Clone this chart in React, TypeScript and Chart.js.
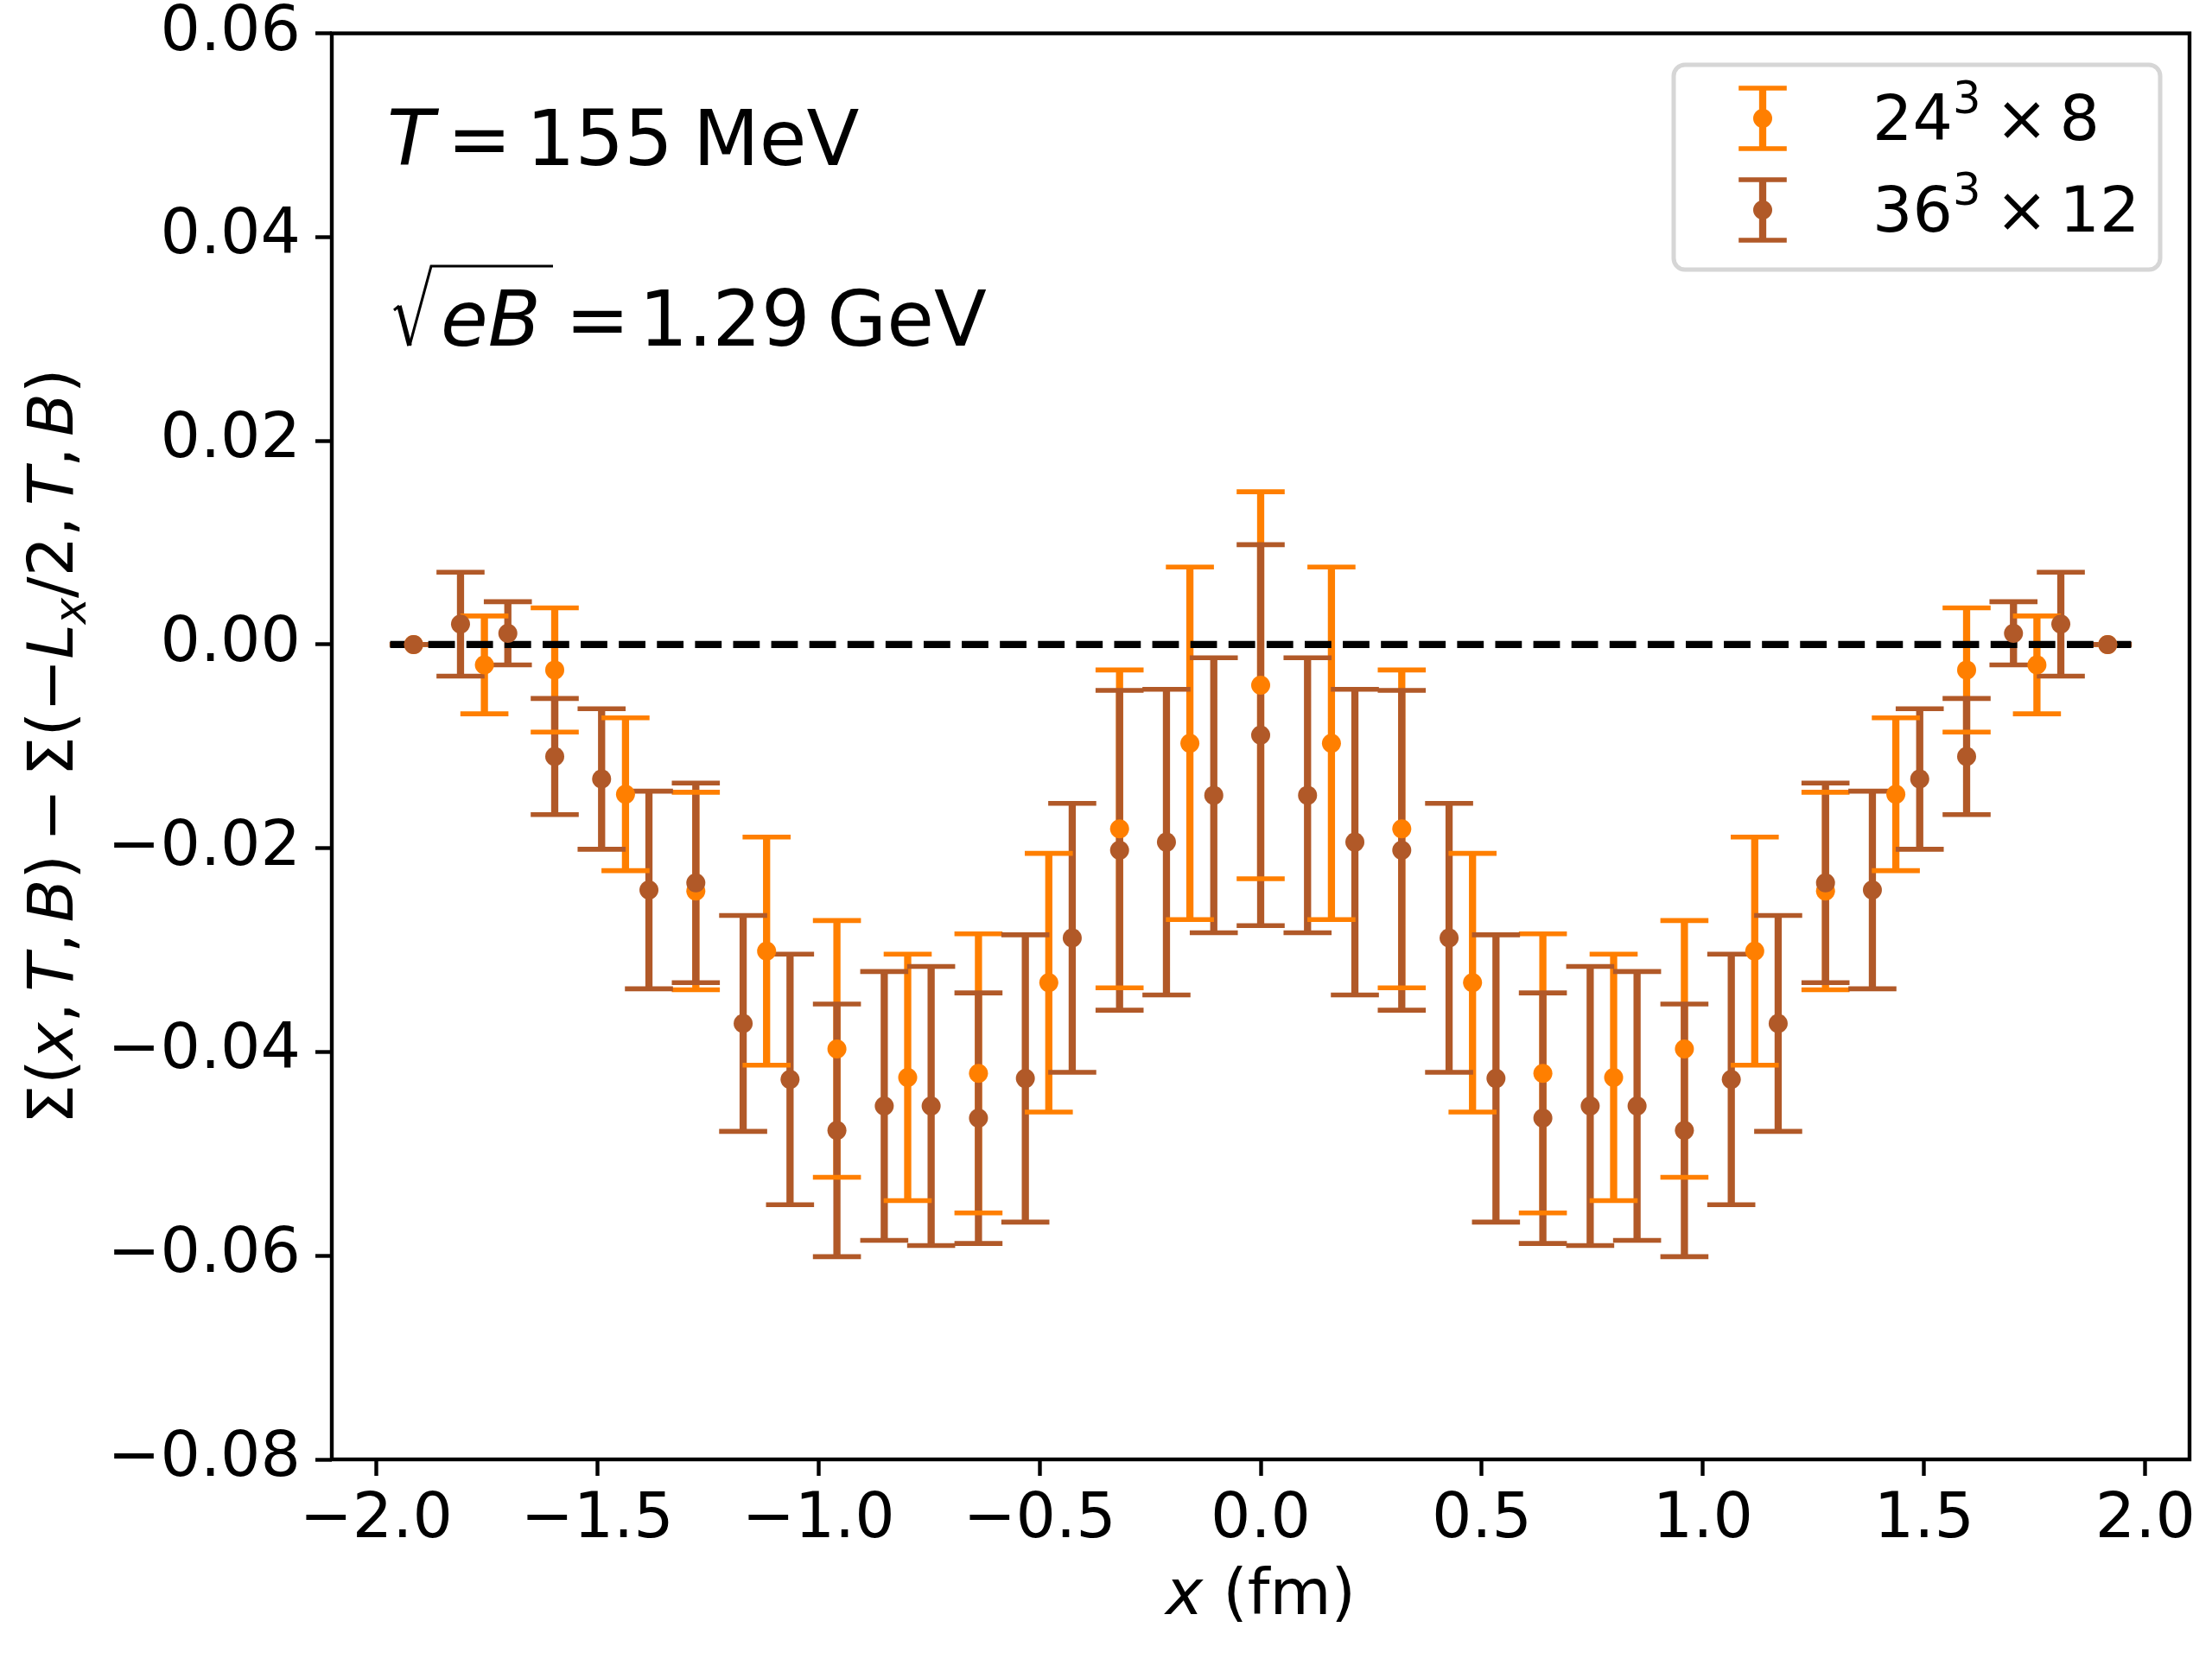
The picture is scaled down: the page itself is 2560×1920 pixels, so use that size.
import { useEffect, useRef } from "react"
import { Chart, registerables } from "chart.js"
import type { Plugin } from "chart.js"

Chart.register(...registerables)

// 24^3 x 8 lattice (orange)
const xCoarse = [
  -1.915, -1.755, -1.596, -1.436, -1.277, -1.117, -0.958, -0.798, -0.638, -0.479, -0.319, -0.16, 0,
  0.16, 0.319, 0.479, 0.638, 0.798, 0.958, 1.117, 1.277, 1.436, 1.596, 1.755, 1.915,
]
const yCoarse = [
  0, -0.002, -0.0025, -0.0147, -0.0242, -0.0301, -0.0397, -0.0425, -0.0421, -0.0332, -0.0181, -0.0097, -0.004,
  -0.0097, -0.0181, -0.0332, -0.0421, -0.0425, -0.0397, -0.0301, -0.0242, -0.0147, -0.0025, -0.002, 0,
]
const errCoarse = [
  0, 0.0048, 0.0061, 0.0075, 0.0097, 0.0112, 0.0126, 0.0121, 0.0137, 0.0127, 0.0156, 0.0173, 0.019,
  0.0173, 0.0156, 0.0127, 0.0137, 0.0121, 0.0126, 0.0112, 0.0097, 0.0075, 0.0061, 0.0048, 0,
]

// 36^3 x 12 lattice (brown)
const xFine = [
  -1.915, -1.809, -1.702, -1.596, -1.49, -1.383, -1.277, -1.17, -1.064, -0.958, -0.851, -0.745, -0.638,
  -0.532, -0.426, -0.319, -0.213, -0.106, 0, 0.106, 0.213, 0.319, 0.426, 0.532, 0.638, 0.745, 0.851,
  0.958, 1.064, 1.17, 1.277, 1.383, 1.49, 1.596, 1.702, 1.809, 1.915,
]
const yFine = [
  0, 0.002, 0.0011, -0.011, -0.0132, -0.0241, -0.0234, -0.0372, -0.0427, -0.0477, -0.0453, -0.0453, -0.0465,
  -0.0426, -0.0288, -0.0202, -0.0194, -0.0148, -0.0089, -0.0148, -0.0194, -0.0202, -0.0288, -0.0426, -0.0465,
  -0.0453, -0.0453, -0.0477, -0.0427, -0.0372, -0.0234, -0.0241, -0.0132, -0.011, 0.0011, 0.002, 0,
]
const errFine = [
  0, 0.0051, 0.0031, 0.0057, 0.0069, 0.0097, 0.0098, 0.0106, 0.0123, 0.0124, 0.0132, 0.0137, 0.0123,
  0.0141, 0.0132, 0.0157, 0.015, 0.0135, 0.0187, 0.0135, 0.015, 0.0157, 0.0132, 0.0141, 0.0123, 0.0137,
  0.0132, 0.0124, 0.0123, 0.0106, 0.0098, 0.0097, 0.0069, 0.0057, 0.0031, 0.0051, 0,
]

// zero reference line
const zeroLineX = [-1.968, 1.968]
const zeroLineY = [0, 0]

const xTicks = [-2, -1.5, -1, -0.5, 0, 0.5, 1, 1.5, 2]
const yTicks = [-0.08, -0.06, -0.04, -0.02, 0, 0.02, 0.04, 0.06]

const ORANGE = "#ff7f00"
const BROWN = "#b15928"
const FONT = "'DejaVu Sans'"
const TICK_SIZE = 73
const ANNOT_SIZE = 89

type Seg = { t: string; it?: boolean; gap?: number; sup?: boolean; sub?: boolean }

function segFont(seg: Seg, size: number) {
  const s = seg.sup || seg.sub ? size * 0.7 : size
  return `${seg.it ? "italic " : ""}${s}px ${FONT}`
}

function richWidth(ctx: CanvasRenderingContext2D, segs: Seg[], size: number) {
  let w = 0
  for (const seg of segs) {
    w += (seg.gap || 0) * size
    ctx.font = segFont(seg, size)
    w += ctx.measureText(seg.t).width
  }
  return w
}

function drawRich(ctx: CanvasRenderingContext2D, segs: Seg[], x: number, y: number, size: number) {
  let cx = x
  ctx.textBaseline = "alphabetic"
  ctx.textAlign = "left"
  for (const seg of segs) {
    cx += (seg.gap || 0) * size
    ctx.font = segFont(seg, size)
    let dy = 0
    if (seg.sup) dy = -0.42 * size
    if (seg.sub) dy = 0.2 * size
    ctx.fillText(seg.t, cx, y + dy)
    cx += ctx.measureText(seg.t).width
  }
}

const minus = (v: string) => v.replace("-", "\u2212")

const errorBars: Plugin<"scatter"> = {
  id: "errorBars",
  beforeDatasetsDraw(chart) {
    const { ctx } = chart
    const x = chart.scales.x
    const y = chart.scales.y
    const series = [
      { xs: xCoarse, ys: yCoarse, es: errCoarse, color: ORANGE },
      { xs: xFine, ys: yFine, es: errFine, color: BROWN },
    ]
    ctx.save()
    ctx.lineWidth = 8.3
    for (const s of series) {
      ctx.strokeStyle = s.color
      ctx.beginPath()
      s.xs.forEach((xv, i) => {
        const px = x.getPixelForValue(xv)
        ctx.moveTo(px, y.getPixelForValue(s.ys[i] + s.es[i]))
        ctx.lineTo(px, y.getPixelForValue(s.ys[i] - s.es[i]))
      })
      ctx.stroke()
    }
    ctx.lineWidth = 5.6
    for (const s of series) {
      ctx.strokeStyle = s.color
      ctx.beginPath()
      s.xs.forEach((xv, i) => {
        const px = x.getPixelForValue(xv)
        for (const v of [s.ys[i] + s.es[i], s.ys[i] - s.es[i]]) {
          const py = y.getPixelForValue(v)
          ctx.moveTo(px - 27.8, py)
          ctx.lineTo(px + 27.8, py)
        }
      })
      ctx.stroke()
    }
    ctx.restore()
  },
}

const decorations: Plugin<"scatter"> = {
  id: "decorations",
  afterDraw(chart) {
    const { ctx, chartArea } = chart
    const { left, right, top, bottom } = chartArea
    ctx.save()

    // spines
    ctx.strokeStyle = "#000"
    ctx.lineWidth = 4.4
    ctx.strokeRect(left, top, right - left, bottom - top)

    ctx.fillStyle = "#000"

    // annotations
    drawRich(
      ctx,
      [{ t: "T", it: true }, { t: "=", gap: 0.17 }, { t: "155", gap: 0.19 }, { t: "MeV", gap: 0.26 }],
      448,
      191,
      ANNOT_SIZE
    )
    // radical sign
    ctx.strokeStyle = "#000"
    ctx.lineCap = "butt"
    ctx.lineWidth = 3
    ctx.beginPath()
    ctx.moveTo(456, 359)
    ctx.lineTo(462, 354)
    ctx.stroke()
    ctx.lineWidth = 5.5
    ctx.beginPath()
    ctx.moveTo(462, 354)
    ctx.lineTo(474, 400)
    ctx.stroke()
    ctx.lineWidth = 3
    ctx.beginPath()
    ctx.moveTo(474, 400)
    ctx.lineTo(499, 308)
    ctx.lineTo(640, 308)
    ctx.stroke()
    drawRich(
      ctx,
      [{ t: "eB", it: true }, { t: "=", gap: 0.32 }, { t: "1.29", gap: 0.12 }, { t: "GeV", gap: 0.22 }],
      510,
      400,
      ANNOT_SIZE
    )

    // y-axis label
    const ySegs: Seg[] = [
      { t: "\u03a3(" },
      { t: "x", it: true },
      { t: "," },
      { t: "T", it: true, gap: 0.17 },
      { t: "," },
      { t: "B", it: true, gap: 0.17 },
      { t: ")" },
      { t: "\u2212", gap: 0.2 },
      { t: "\u03a3(\u2212", gap: 0.2 },
      { t: "L", it: true },
      { t: "x", it: true, sub: true },
      { t: "/2," },
      { t: "T", it: true, gap: 0.17 },
      { t: "," },
      { t: "B", it: true, gap: 0.17 },
      { t: ")" },
    ]
    const yw = richWidth(ctx, ySegs, TICK_SIZE)
    ctx.save()
    ctx.translate(84, (top + bottom) / 2)
    ctx.rotate(-Math.PI / 2)
    drawRich(ctx, ySegs, -yw / 2, 0, TICK_SIZE)
    ctx.restore()

    // x-axis label
    const xSegs: Seg[] = [{ t: "x", it: true }, { t: " (fm)" }]
    const xw = richWidth(ctx, xSegs, TICK_SIZE)
    drawRich(ctx, xSegs, (left + right) / 2 - xw / 2, 1868, TICK_SIZE)

    // legend
    ctx.fillStyle = "rgba(255,255,255,0.8)"
    ctx.strokeStyle = "#d6d6d6"
    ctx.lineWidth = 5
    ctx.beginPath()
    ctx.roundRect(1937, 75, 563, 237, 13)
    ctx.fill()
    ctx.stroke()

    const entries = [
      { color: ORANGE, cy: 137, segs: [{ t: "24" }, { t: "3", sup: true }, { t: "\u00d7", gap: 0.23 }, { t: "8", gap: 0.18 }] },
      { color: BROWN, cy: 243, segs: [{ t: "36" }, { t: "3", sup: true }, { t: "\u00d7", gap: 0.23 }, { t: "12", gap: 0.18 }] },
    ]
    for (const e of entries) {
      const hx = 2040
      ctx.strokeStyle = e.color
      ctx.lineWidth = 8.3
      ctx.beginPath()
      ctx.moveTo(hx, e.cy - 35)
      ctx.lineTo(hx, e.cy + 35)
      ctx.stroke()
      ctx.lineWidth = 5.6
      ctx.beginPath()
      ctx.moveTo(hx - 27.8, e.cy - 35)
      ctx.lineTo(hx + 27.8, e.cy - 35)
      ctx.moveTo(hx - 27.8, e.cy + 35)
      ctx.lineTo(hx + 27.8, e.cy + 35)
      ctx.stroke()
      ctx.fillStyle = e.color
      ctx.beginPath()
      ctx.arc(hx, e.cy, 11, 0, Math.PI * 2)
      ctx.fill()
      ctx.fillStyle = "#000"
      drawRich(ctx, e.segs, 2167, e.cy + 25, TICK_SIZE)
    }

    ctx.restore()
  },
}

export default function App() {
  const chartRef = useRef<HTMLCanvasElement>(null)
  const chartInstance = useRef<Chart | null>(null)

  useEffect(() => {
    if (!chartRef.current) return
    if (chartInstance.current) chartInstance.current.destroy()
    const ctx = chartRef.current.getContext("2d")
    if (!ctx) return

    chartInstance.current = new Chart(ctx, {
      type: "scatter",
      data: {
        datasets: [
          {
            label: "zero",
            data: zeroLineX.map((x, i) => ({ x, y: zeroLineY[i] })),
            showLine: true,
            borderColor: "#000",
            borderWidth: 8.3,
            borderDash: [30.8, 13.3],
            pointRadius: 0,
            order: 3,
          },
          {
            label: "24^3 x 8",
            data: xCoarse.map((x, i) => ({ x, y: yCoarse[i] })),
            pointRadius: 11,
            pointBorderWidth: 0,
            pointBackgroundColor: ORANGE,
            backgroundColor: ORANGE,
            order: 2,
          },
          {
            label: "36^3 x 12",
            data: xFine.map((x, i) => ({ x, y: yFine[i] })),
            pointRadius: 11,
            pointBorderWidth: 0,
            pointBackgroundColor: BROWN,
            backgroundColor: BROWN,
            order: 1,
          },
        ],
      },
      options: {
        animation: false,
        responsive: true,
        maintainAspectRatio: false,
        devicePixelRatio: 1,
        events: [],
        layout: { padding: { top: 38.6, right: 26, left: 0, bottom: 0 } },
        plugins: {
          legend: { display: false },
          tooltip: { enabled: false },
        },
        scales: {
          x: {
            type: "linear",
            min: -2.1,
            max: 2.1,
            afterFit: (scale) => {
              scale.height = 231
              scale.paddingLeft = 0
              scale.paddingRight = 0
            },
            afterBuildTicks: (scale) => {
              scale.ticks = xTicks.map((value) => ({ value }))
            },
            border: { display: false },
            grid: {
              display: true,
              drawOnChartArea: false,
              drawTicks: true,
              tickLength: 19,
              tickWidth: 4.4,
              tickColor: "#000",
            },
            ticks: {
              autoSkip: false,
              maxRotation: 0,
              padding: 8,
              color: "#000",
              font: { family: FONT, size: TICK_SIZE },
              callback: (value) => minus(Number(value).toFixed(1)),
            },
          },
          y: {
            type: "linear",
            min: -0.08,
            max: 0.06,
            afterFit: (scale) => {
              scale.width = 384
              scale.paddingTop = 0
              scale.paddingBottom = 0
            },
            afterBuildTicks: (scale) => {
              scale.ticks = yTicks.map((value) => ({ value }))
            },
            border: { display: false },
            grid: {
              display: true,
              drawOnChartArea: false,
              drawTicks: true,
              tickLength: 19,
              tickWidth: 4.4,
              tickColor: "#000",
            },
            ticks: {
              autoSkip: false,
              padding: 17,
              color: "#000",
              font: { family: FONT, size: TICK_SIZE },
              callback: (value) => {
                const v = Number(value)
                return Math.abs(v) < 1e-9 ? "0.00" : minus(v.toFixed(2))
              },
            },
          },
        },
      },
      plugins: [errorBars, decorations],
    })

    return () => {
      if (chartInstance.current) {
        chartInstance.current.destroy()
        chartInstance.current = null
      }
    }
  }, [])

  return (
    <div style={{ position: "absolute", left: 0, top: 0, width: 2560, height: 1920, background: "#fff" }}>
      <canvas ref={chartRef} />
    </div>
  )
}
